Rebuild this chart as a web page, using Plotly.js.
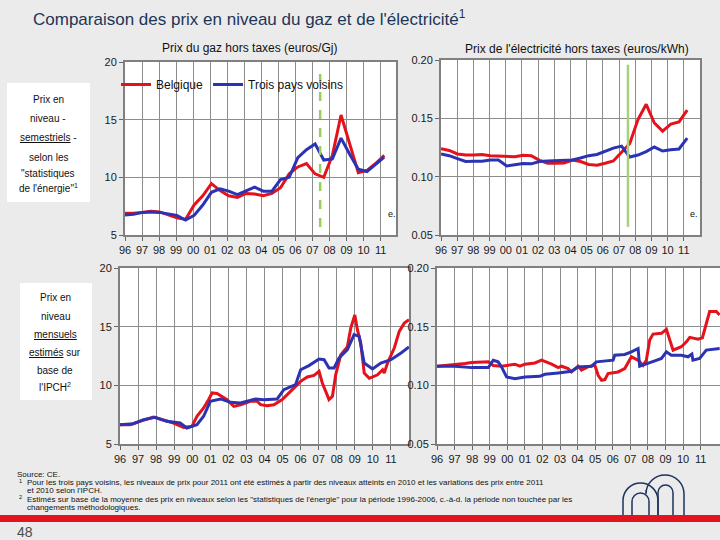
<!DOCTYPE html>
<html>
<head>
<meta charset="utf-8">
<script src="https://cdn.plot.ly/plotly-3.0.1.min.js"></script>
<style>
  body { margin: 0; background: #ebebeb; }
  #chart { width: 720px; height: 540px; }
</style>
</head>
<body>
<div id="chart"></div>
<script>
// axes des années
var annees = [1996, 1997, 1998, 1999, 2000, 2001, 2002, 2003, 2004, 2005, 2006, 2007, 2008, 2009, 2010, 2011];
var anneesLabels = ['96', '97', '98', '99', '00', '01', '02', '03', '04', '05', '06', '07', '08', '09', '10', '11'];

// prix semestriels - "statistiques de l'énergie"
var semestres = ['96-1', '96-2', '97-1', '97-2', '98-1', '98-2', '99-1', '99-2', '00-1', '00-2',
                 '01-1', '01-2', '02-1', '02-2', '03-1', '03-2', '04-1', '04-2', '05-1', '05-2',
                 '06-1', '06-2', '07-1', '07-2', '08-1', '08-2', '09-1', '09-2', '10-1', '10-2', '11-1'];
var gazSemBelgique = [6.88, 6.88, 6.96, 7.05, 7.0, 6.78, 6.5, 6.35, 7.6, 8.4,
                      9.45, 8.85, 8.4, 8.25, 8.6, 8.55, 8.4, 8.6, 9.1, 10.3,
                      10.9, 11.2, 10.3, 10.0, 11.9, 15.4, 12.8, 10.4, 10.6, 11.2, 11.9];
var gazSemVoisins = [6.73, 6.8, 6.96, 7.0, 6.96, 6.8, 6.7, 6.3, 6.7, 7.6,
                     8.7, 9.0, 8.8, 8.5, 8.85, 9.15, 8.8, 8.8, 9.8, 10.0,
                     11.7, 12.4, 12.9, 11.5, 11.6, 13.4, 12.0, 10.7, 10.5, 11.1, 11.75];
var elecSemBelgique = [0.124, 0.1225, 0.1195, 0.1185, 0.1185, 0.119, 0.118, 0.1178, 0.1172, 0.117,
                       0.1183, 0.118, 0.114, 0.1115, 0.1115, 0.1118, 0.1143, 0.113, 0.1105, 0.1098,
                       0.1115, 0.1135, 0.121, 0.1285, 0.149, 0.162, 0.146, 0.139, 0.145, 0.147, 0.157];
var elecSemVoisins = [0.1195, 0.118, 0.1155, 0.113, 0.1133, 0.1133, 0.1143, 0.1143, 0.1092, 0.1105,
                      0.1112, 0.111, 0.113, 0.1135, 0.1137, 0.1137, 0.1143, 0.116, 0.118, 0.119,
                      0.1215, 0.1245, 0.1262, 0.1168, 0.1185, 0.1215, 0.1254, 0.122, 0.123, 0.1237, 0.1331];

// prix mensuels estimés sur base de l'IPCH (dates en années décimales)
var gazMensBeDates = [1996.0, 1996.56, 1997.11, 1997.85, 1998.22, 1998.96, 1999.52, 1999.98, 2000.26, 2000.63,
                      2000.9, 2001.1, 2001.37, 2001.93, 2002.3, 2002.67, 2003.22, 2003.59, 2003.78, 2004.15,
                      2004.52, 2004.98, 2005.44, 2006.0, 2006.37, 2006.74, 2007.02, 2007.2, 2007.39, 2007.57,
                      2007.76, 2007.94, 2008.22, 2008.59, 2008.78, 2009.0, 2009.15, 2009.33, 2009.52, 2009.8,
                      2010.26, 2010.54, 2010.63, 2010.81, 2011.19, 2011.46, 2011.74, 2012.0];
var gazMensBe = [6.65, 6.65, 6.93, 7.3, 7.13, 6.79, 6.42, 6.5, 7.36, 8.07,
                 8.78, 9.35, 9.3, 8.78, 8.2, 8.35, 8.64, 8.64, 8.35, 8.27,
                 8.35, 8.78, 9.49, 10.34, 10.71, 10.85, 11.2, 10.2, 9.49, 8.78,
                 9.06, 10.9, 12.6, 13.3, 14.9, 16.0, 14.7, 13.6, 11.05, 10.6,
                 10.9, 11.33, 11.05, 11.9, 13.2, 14.6, 15.3, 15.6];
var gazMensVoisinsDates = [1996.0, 1996.74, 1997.3, 1997.94, 1998.59, 1999.33, 1999.7, 2000.26, 2000.63, 2001.0,
                           2001.56, 2002.11, 2002.67, 2003.5, 2003.96, 2004.7, 2005.07, 2005.72, 2006.0, 2006.46,
                           2007.02, 2007.3, 2007.57, 2007.85, 2008.13, 2008.59, 2008.96, 2009.24, 2009.52, 2009.98,
                           2010.44, 2011.0, 2011.56, 2012.0];
var gazMensVoisins = [6.65, 6.73, 7.07, 7.27, 6.93, 6.79, 6.36, 6.65, 7.36, 8.64,
                      8.84, 8.55, 8.49, 8.84, 8.78, 8.84, 9.63, 10.06, 11.33, 11.68,
                      12.24, 12.19, 11.48, 11.48, 12.33, 13.04, 14.32, 14.18, 11.9, 11.39,
                      11.9, 12.19, 12.76, 13.27];
var elecMensBeDates = [1996.0, 1996.64, 1997.02, 1997.59, 1997.97, 1998.92, 1999.2, 1999.67, 1999.96, 2000.43,
                       2000.72, 2001.0, 2001.57, 2001.95, 2002.52, 2002.9, 2003.08, 2003.46, 2003.65, 2004.03,
                       2004.22, 2004.6, 2004.98, 2005.17, 2005.36, 2005.55, 2005.73, 2006.3, 2006.68, 2007.06,
                       2007.44, 2007.72, 2007.91, 2008.1, 2008.29, 2008.77, 2009.05, 2009.33, 2009.43, 2009.9,
                       2010.19, 2010.38, 2010.85, 2011.1, 2011.32, 2011.51, 2011.89, 2012.08];
var elecMensBe = [0.1163, 0.1169, 0.1177, 0.1186, 0.1194, 0.12, 0.1169, 0.1163, 0.1171, 0.118,
                  0.1163, 0.118, 0.1191, 0.1214, 0.118, 0.1151, 0.1163, 0.1143, 0.1114, 0.1163,
                  0.1129, 0.116, 0.1171, 0.1086, 0.1043, 0.1049, 0.11, 0.1114, 0.1143, 0.1243,
                  0.1214, 0.1171, 0.1214, 0.1386, 0.1437, 0.1443, 0.1477, 0.1343, 0.13, 0.1329,
                  0.1371, 0.1409, 0.1394, 0.1406, 0.1514, 0.1629, 0.1629, 0.16];
var elecMensVoisinsDates = [1996.0, 1997.02, 1997.97, 1998.92, 1999.2, 1999.48, 1999.67, 1999.96, 2000.43, 2001.0,
                            2001.85, 2002.14, 2002.9, 2003.65, 2004.03, 2004.79, 2005.07, 2006.02, 2006.11, 2006.68,
                            2007.06, 2007.44, 2007.53, 2007.91, 2008.39, 2008.77, 2009.05, 2009.33, 2009.9, 2010.28,
                            2010.5, 2010.56, 2010.94, 2011.32, 2012.08];
var elecMensVoisins = [0.1163, 0.1163, 0.1151, 0.1151, 0.1214, 0.12, 0.1157, 0.1071, 0.1057, 0.1071,
                       0.1077, 0.1094, 0.1106, 0.112, 0.1157, 0.1163, 0.12, 0.1214, 0.1257, 0.1263,
                       0.1286, 0.1314, 0.1163, 0.1186, 0.1209, 0.1229, 0.1286, 0.1257, 0.1257, 0.1243,
                       0.1266, 0.1214, 0.1229, 0.13, 0.1314];

// rupture méthodologique
var ruptureGaz = 2007.45;
var ruptureElec = 2007.55;

var rouge = '#e5121b';
var bleu = '#2c33b2';
var police = 'Liberation Sans, Arial, sans-serif';

// position des semestres sur l'axe
var tSem = semestres.map(function(s, i) { return 1996 + i * 0.507; });

function px(x) { return x / 720; }
function py(y) { return 1 - y / 540; }

function courbe(x, y, couleur, nom, xa, ya, legende) {
  return {
    x: x, y: y, type: 'scatter', mode: 'lines', name: nom,
    xaxis: xa, yaxis: ya, showlegend: legende, legendgroup: nom,
    line: {color: couleur, width: 3}
  };
}

var data = [
  courbe(tSem, gazSemBelgique, rouge, 'Belgique', 'x', 'y', true),
  courbe(tSem, gazSemVoisins, bleu, 'Trois pays voisins', 'x', 'y', true),
  courbe(tSem, elecSemBelgique, rouge, 'Belgique', 'x2', 'y2', false),
  courbe(tSem, elecSemVoisins, bleu, 'Trois pays voisins', 'x2', 'y2', false),
  courbe(gazMensBeDates, gazMensBe, rouge, 'Belgique', 'x3', 'y3', false),
  courbe(gazMensVoisinsDates, gazMensVoisins, bleu, 'Trois pays voisins', 'x3', 'y3', false),
  courbe(elecMensBeDates, elecMensBe, rouge, 'Belgique', 'x4', 'y4', false),
  courbe(elecMensVoisinsDates, elecMensVoisins, bleu, 'Trois pays voisins', 'x4', 'y4', false)
];

function axeX(x0, x1, plage, ancre) {
  return {
    domain: [px(x0), px(x1)], range: plage, anchor: ancre,
    tickvals: annees, ticktext: anneesLabels,
    showgrid: true, gridcolor: '#8c8c8c', gridwidth: 1, zeroline: false,
    showline: true, mirror: true, linecolor: '#808080', linewidth: 2,
    ticks: 'outside', ticklen: 4, tickcolor: '#666',
    tickfont: {family: police, size: 11, color: '#1a1a1a'}
  };
}

function axeY(y0, y1, plage, valeurs, ancre) {
  return {
    domain: [py(y1), py(y0)], range: plage, anchor: ancre,
    tickvals: valeurs, ticktext: valeurs.map(function(v) { return v < 1 ? v.toFixed(2) : String(v); }),
    showgrid: true, gridcolor: '#8c8c8c', gridwidth: 1, zeroline: false,
    showline: true, mirror: true, linecolor: '#808080', linewidth: 2,
    ticks: 'outside', ticklen: 4, tickcolor: '#666',
    tickfont: {family: police, size: 11, color: '#1a1a1a'}
  };
}

var niveauxGaz = [5, 10, 15, 20];
var niveauxElec = [0.05, 0.10, 0.15, 0.20];

var annotations = [];
function texte(t, x, y, taille, opts) {
  opts = opts || {};
  annotations.push({
    text: t, xref: 'paper', yref: 'paper', x: px(x), y: py(y),
    xanchor: opts.ancre || 'left', yanchor: 'middle', showarrow: false,
    font: {family: police, size: taille, color: opts.couleur || '#111'}
  });
}

texte("Comparaison des prix en niveau du gaz et de l'électricité<sup>1</sup>", 31, 18, 17,
      {couleur: '#1c3658'});
texte('Prix du gaz hors taxes (euros/Gj)', 249, 48, 12, {ancre: 'center'});
texte("Prix de l'électricité hors taxes (euros/kWh)", 577, 49, 12, {ancre: 'center'});
texte('e.', 392, 214, 9, {ancre: 'center'});
texte('e.', 694, 214, 9, {ancre: 'center'});

var lignesSem = ['Prix en', 'niveau -', '<u>semestriels</u> -', 'selon les', '"statistiques', "de l'énergie\"<sup>1</sup>"];
var hautSem = [99, 118, 137, 157, 174, 188];
lignesSem.forEach(function(l, i) { texte(l, 48, hautSem[i], 10, {ancre: 'center'}); });

var lignesMens = ['Prix en', 'niveau', '<u>mensuels</u>', '<u>estimés</u> sur', 'base de', "l'IPCH<sup>2</sup>"];
var hautMens = [297, 316, 334, 352, 370, 387];
lignesMens.forEach(function(l, i) { texte(l, 55, hautMens[i], 10, {ancre: 'center'}); });

texte('Source: CE.', 15, 474, 8);
texte('<sup>1</sup>', 17, 481, 8);
texte('Pour les trois pays voisins, les niveaux de prix pour 2011 ont été estimés à partir des niveaux atteints en 2010 et les variations des prix entre 2011', 25, 482, 8);
texte("et 2010 selon l'IPCH.", 25, 490, 8);
texte('<sup>2</sup>', 17, 497, 8);
texte("Estimés sur base de la moyenne des prix en niveaux selon les \"statistiques de l'énergie\" pour la période 1996-2006, c.-à-d. la période non touchée par les", 25, 499, 8);
texte('changements méthodologiques.', 25, 507, 8);
texte('48', 15, 532, 14, {couleur: '#4a4a4a'});

// logo : arcs en pixels
function arc(x0, x1, yHaut, yBas, yDepart) {
  var r = (x1 - x0) / 2, xm = x0 + r, yc = yHaut + r, k = 0.552 * r;
  var p = function(x, y) { return px(x) + ',' + py(y); };
  return 'M ' + p(x0, yDepart) + ' L ' + p(x0, yc) +
    ' C ' + p(x0, yc - k) + ' ' + p(xm - k, yHaut) + ' ' + p(xm, yHaut) +
    ' C ' + p(xm + k, yHaut) + ' ' + p(x1, yc - k) + ' ' + p(x1, yc) +
    ' L ' + p(x1, yBas);
}

var shapes = [
  {type: 'rect', xref: 'paper', yref: 'paper', x0: px(7), x1: px(90), y0: py(202), y1: py(83),
   fillcolor: '#ffffff', line: {width: 0}, layer: 'below'},
  {type: 'rect', xref: 'paper', yref: 'paper', x0: px(20), x1: px(92), y0: py(400), y1: py(283),
   fillcolor: '#ffffff', line: {width: 0}, layer: 'below'},
  {type: 'rect', xref: 'paper', yref: 'paper', x0: 0, x1: 1, y0: py(522), y1: py(515),
   fillcolor: '#e3141d', line: {width: 0}},
  {type: 'line', xref: 'x', yref: 'y', x0: ruptureGaz, x1: ruptureGaz, y0: 5.7, y1: 19.7,
   line: {color: '#9ccc5c', width: 2.5, dash: 'dash'}},
  {type: 'line', xref: 'x2', yref: 'y2', x0: ruptureElec, x1: ruptureElec, y0: 0.057, y1: 0.196,
   line: {color: '#a8cf7c', width: 2.5}}
];
[[623, 658, 483, 515, 515], [632, 649, 493, 515, 515], [646, 684, 475, 515, 490], [658, 673, 485, 515, 515]]
  .forEach(function(a) {
    shapes.push({type: 'path', xref: 'paper', yref: 'paper', path: arc(a[0], a[1], a[2], a[3], a[4]),
                 line: {color: '#1d3461', width: 1.5}});
  });

var layout = {
  width: 720, height: 540,
  margin: {l: 0, r: 0, t: 0, b: 0},
  paper_bgcolor: '#ebebeb', plot_bgcolor: '#ffffff',
  font: {family: police, color: '#111'},
  showlegend: true,
  legend: {orientation: 'h', x: px(116), y: py(70), xanchor: 'left', yanchor: 'top',
           bgcolor: 'rgba(0,0,0,0)', font: {family: police, size: 12, color: '#111'},
           itemwidth: 30, tracegroupgap: 0},
  xaxis: axeX(125, 396, [1996, 2011.9], 'y'),
  yaxis: axeY(62, 235, [5, 20], niveauxGaz, 'x'),
  xaxis2: axeX(441, 700, [1996, 2012], 'y2'),
  yaxis2: axeY(60, 235, [0.05, 0.2], niveauxElec, 'x2'),
  xaxis3: axeX(120, 409, [1996, 2012], 'y3'),
  yaxis3: axeY(268, 444, [5, 20], niveauxGaz, 'x3'),
  xaxis4: axeX(437, 720, [1996, 2012.1], 'y4'),
  yaxis4: axeY(268, 444, [0.05, 0.2], niveauxElec, 'x4'),
  shapes: shapes,
  annotations: annotations
};

Plotly.newPlot('chart', data, layout, {staticPlot: true});
</script>
</body>
</html>
